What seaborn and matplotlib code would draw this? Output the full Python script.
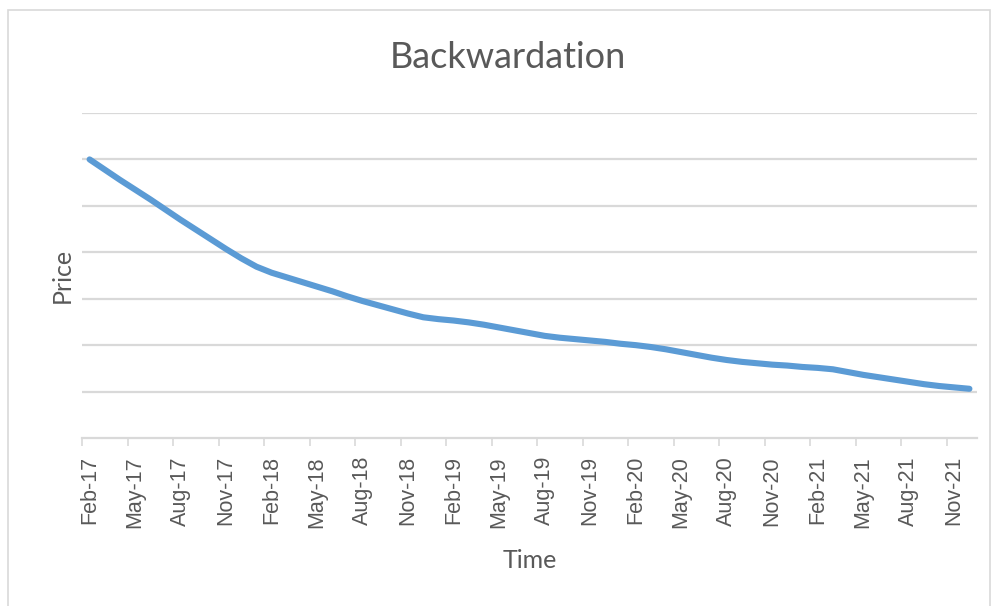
import numpy as np
import pandas as pd
import matplotlib
matplotlib.use("Agg")
import matplotlib.pyplot as plt
from matplotlib.patches import Rectangle
import seaborn as sns

# Monthly observations, Feb-2017 .. Dec-2021
months = pd.date_range("2017-02-01", "2021-12-01", freq="MS")
price = [
    6.00, 5.78, 5.56, 5.35, 5.14, 4.92, 4.70, 4.49, 4.28, 4.07, 3.87, 3.69,
    3.56, 3.46, 3.36, 3.26, 3.16, 3.05, 2.95, 2.86, 2.77, 2.68, 2.60, 2.56,
    2.53, 2.49, 2.44, 2.38, 2.32, 2.26, 2.20, 2.16, 2.13, 2.10, 2.07, 2.03,
    2.00, 1.96, 1.91, 1.85, 1.79, 1.73, 1.68, 1.64, 1.61, 1.58, 1.56, 1.53,
    1.51, 1.48, 1.42, 1.36, 1.31, 1.26, 1.21, 1.16, 1.12, 1.09, 1.06,
]
tick_labels = [m.strftime("%b-%y") for m in months[::3]]

df = pd.DataFrame({"idx": np.arange(len(months)), "price": price})

sns.set_theme(style="white")
plt.rcParams["font.family"] = ["Liberation Sans", "DejaVu Sans"]

grey_text = "#595959"
grid_col = "#d9d9d9"

fig = plt.figure(figsize=(9.97, 6.06), dpi=100)
ax = fig.add_axes([82 / 997, 1 - 438 / 606, (977 - 82) / 997, (438 - 113) / 606])

# outer chart frame
fig.patches.append(Rectangle((8 / 997, -0.05), (990 - 8) / 997, 1.05 - 10 / 606,
                             transform=fig.transFigure, fill=False,
                             edgecolor=grid_col, linewidth=1.2))

sns.lineplot(data=df, x="idx", y="price", ax=ax, color="#5b9bd5",
             linewidth=4.4, solid_capstyle="round", solid_joinstyle="round")

ax.set_xlim(-0.5, len(months) - 0.5)
ax.set_ylim(0, 7)
ax.set_yticks(np.arange(1, 8))
ax.set_yticklabels([])
ax.tick_params(axis="y", length=0)
ax.yaxis.grid(True, color=grid_col, linewidth=1.6)
ax.xaxis.grid(False)

ax.set_xticks(np.arange(0, len(months), 3))
ax.set_xticklabels(tick_labels, rotation=90, fontsize=15.5, color=grey_text)
ax.tick_params(axis="x", which="major", length=0, pad=13)
ax.set_xticks(np.arange(-0.5, len(months) - 1, 3), minor=True)
ax.tick_params(axis="x", which="minor", length=6, width=1.2, color=grid_col,
               bottom=True)

for side in ["top", "right", "left"]:
    ax.spines[side].set_visible(False)
ax.spines["bottom"].set_color(grid_col)
ax.spines["bottom"].set_linewidth(1.6)

ax.set_xlabel("Time", fontsize=18, color=grey_text, family=["Lato", "DejaVu Sans"])
ax.xaxis.set_label_coords((530 - 82) / 895, (438 - 561) / 325)
ax.xaxis.label.set_va("center")
ax.set_ylabel("Price", fontsize=18, color=grey_text, family=["Lato", "DejaVu Sans"])
ax.yaxis.set_label_coords((62 - 82) / 895, (438 - 275) / 325)
ax.yaxis.label.set_va("center")

fig.text(508 / 997, 1 - 58 / 606, "Backwardation", ha="center", va="center",
         fontsize=26, color=grey_text, family=["Lato", "DejaVu Sans"])

fig.savefig("out.png", dpi=100)
